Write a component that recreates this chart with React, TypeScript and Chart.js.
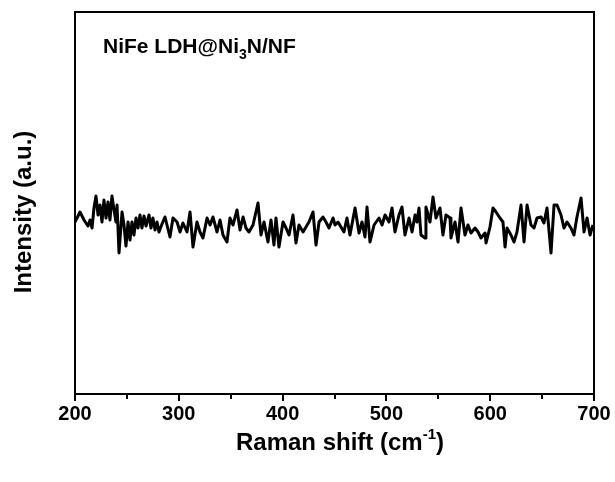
import React, { useEffect, useRef } from "react";
import { Chart, registerables } from "chart.js";

Chart.register(...registerables);

const ramanShift: number[] = [
  200.0, 201.0, 204.8, 208.7, 212.5, 214.5, 216.4, 218.3, 220.2, 222.2, 224.1, 226.0, 227.9, 229.9, 231.8,
  233.7, 235.6, 237.6, 239.5, 240.5, 242.4, 245.3, 247.2, 249.1, 251.1, 253.0, 254.9, 256.8, 258.8, 260.7,
  262.6, 264.5, 266.5, 268.4, 271.3, 273.2, 275.1, 277.1, 279.0, 280.9, 283.8, 286.7, 291.5, 294.4, 298.3,
  301.2, 304.0, 307.9, 310.8, 313.7, 317.5, 320.4, 323.3, 327.2, 330.1, 332.9, 336.8, 339.7, 342.6, 346.4,
  349.3, 352.2, 356.1, 359.0, 361.9, 364.7, 367.6, 371.5, 376.3, 379.2, 382.1, 385.9, 388.8, 391.7, 393.6,
  396.5, 400.4, 403.3, 406.2, 410.0, 412.9, 415.8, 419.7, 422.5, 425.4, 429.3, 432.2, 435.1, 438.9, 441.8,
  444.7, 448.6, 450.5, 453.4, 459.1, 462.0, 464.9, 469.8, 473.6, 476.5, 479.4, 481.3, 484.2, 488.1, 492.9,
  495.8, 498.7, 502.5, 505.4, 508.3, 512.1, 515.0, 517.9, 521.8, 524.7, 527.6, 529.5, 531.4, 533.3, 537.2,
  538.1, 542.0, 544.9, 547.8, 551.6, 554.5, 557.4, 561.3, 562.2, 566.1, 569.0, 571.9, 575.7, 578.6, 581.5,
  585.4, 588.3, 591.1, 595.0, 596.0, 599.8, 602.7, 605.6, 609.4, 612.3, 614.3, 616.2, 620.0, 622.9, 625.8,
  629.7, 632.6, 635.5, 639.3, 642.2, 645.1, 649.0, 651.8, 654.7, 658.6, 661.5, 664.4, 668.2, 671.1, 674.0,
  677.8, 680.7, 683.6, 687.5, 690.4, 693.3, 696.2, 699.0,
];

const intensity: number[] = [
  172, 174, 182, 174, 168, 174, 166, 186, 198, 179, 189, 172, 194, 176, 192,
  174, 198, 184, 172, 189, 141, 182, 169, 148, 172, 154, 172, 159, 176, 166,
  179, 166, 178, 168, 179, 166, 176, 164, 172, 162, 170, 177, 157, 176, 172,
  162, 171, 162, 182, 147, 172, 162, 156, 176, 169, 177, 162, 174, 159, 152,
  176, 169, 184, 164, 177, 166, 162, 169, 191, 159, 172, 152, 174, 149, 176,
  147, 172, 166, 159, 179, 151, 169, 162, 167, 172, 182, 149, 172, 177, 172,
  166, 176, 169, 172, 162, 176, 159, 186, 161, 172, 157, 187, 152, 169, 176,
  169, 179, 172, 186, 162, 179, 187, 159, 176, 162, 179, 172, 186, 159, 156,
  187, 172, 197, 176, 186, 159, 179, 176, 156, 172, 152, 186, 159, 169, 161,
  166, 162, 156, 161, 151, 167, 186, 182, 176, 172, 147, 166, 159, 152, 162,
  189, 152, 189, 169, 166, 176, 177, 171, 186, 141, 189, 189, 179, 166, 172,
  166, 159, 177, 196, 162, 176, 159, 169,
];

const xTickValues: number[] = [200, 250, 300, 350, 400, 450, 500, 550, 600, 650, 700];

const FONT = "Arial, 'Liberation Sans', Helvetica, sans-serif";

const textPlugin = {
  id: "customText",
  afterDraw(chart: any) {
    const ctx = chart.ctx as CanvasRenderingContext2D;
    const { left, top, right, bottom } = chart.chartArea;
    const xs = chart.scales.x;
    ctx.save();
    // frame
    ctx.strokeStyle = "#000";
    ctx.lineWidth = 2;
    ctx.strokeRect(left, top, right - left, bottom - top);

    // minor ticks (shorter)
    ctx.beginPath();
    xTickValues.forEach((v) => {
      if (v % 100 !== 0) {
        const px = Math.round(xs.getPixelForValue(v));
        ctx.moveTo(px, bottom);
        ctx.lineTo(px, bottom + 5);
      }
    });
    ctx.stroke();

    ctx.fillStyle = "#000";
    ctx.textBaseline = "alphabetic";
    ctx.textAlign = "left";

    // annotation
    let x = 103;
    const by = 53;
    ctx.font = `bold 21px ${FONT}`;
    const a1 = "NiFe LDH@Ni";
    ctx.fillText(a1, x, by);
    x += ctx.measureText(a1).width;
    ctx.font = `bold 14px ${FONT}`;
    ctx.fillText("3", x, by + 6);
    x += ctx.measureText("3").width;
    ctx.font = `bold 21px ${FONT}`;
    ctx.fillText("N/NF", x, by);

    // x title
    const t1 = "Raman shift (cm";
    const t2 = "-1";
    const t3 = ")";
    ctx.font = `bold 24px ${FONT}`;
    const w1 = ctx.measureText(t1).width;
    const w3 = ctx.measureText(t3).width;
    ctx.font = `bold 15px ${FONT}`;
    const w2 = ctx.measureText(t2).width;
    const total = w1 + w2 + w3;
    let tx = 340 - total / 2;
    const ty = 450;
    ctx.font = `bold 24px ${FONT}`;
    ctx.fillText(t1, tx, ty);
    tx += w1;
    ctx.font = `bold 15px ${FONT}`;
    ctx.fillText(t2, tx, ty - 11);
    tx += w2;
    ctx.font = `bold 24px ${FONT}`;
    ctx.fillText(t3, tx, ty);

    // y title
    ctx.translate(31, 212);
    ctx.rotate(-Math.PI / 2);
    ctx.textAlign = "center";
    ctx.font = `bold 24px ${FONT}`;
    ctx.fillText("Intensity (a.u.)", 0, 0);
    ctx.restore();
  },
};

export default function App() {
  const canvasRef = useRef<HTMLCanvasElement | null>(null);

  useEffect(() => {
    document.body.style.margin = "0";
    const canvas = canvasRef.current;
    if (!canvas) return;
    const points = ramanShift.map((v, i) => ({ x: v, y: intensity[i] }));
    const chart = new Chart(canvas, {
      type: "line",
      data: {
        datasets: [
          {
            data: points,
            borderColor: "#000",
            borderWidth: 3,
            pointRadius: 0,
            tension: 0,
            fill: false,
            borderJoinStyle: "round",
          },
        ],
      },
      options: {
        responsive: false,
        animation: false,
        devicePixelRatio: 1,
        layout: { padding: { top: 12, right: 21, left: 0, bottom: 0 } },
        plugins: { legend: { display: false }, tooltip: { enabled: false } },
        scales: {
          x: {
            type: "linear",
            min: 200,
            max: 700,
            afterBuildTicks: (scale: any) => {
              scale.ticks = xTickValues.map((v) => ({ value: v }));
            },
            afterFit: (scale: any) => {
              scale.height = 88;
            },
            ticks: {
              color: "#000",
              font: { family: FONT, size: 20, weight: "bold" },
              padding: 1,
              maxRotation: 0,
              autoSkip: false,
              callback: (v: any) => (Number(v) % 100 === 0 ? String(v) : ""),
            },
            grid: {
              display: true,
              drawOnChartArea: false,
              drawTicks: true,
              tickLength: 7,
              color: (c: any) =>
                c.tick && c.tick.value % 100 === 0 ? "#000" : "rgba(0,0,0,0)",
              lineWidth: 2,
            },
            border: { display: true, color: "#000", width: 2 },
          },
          y: {
            type: "linear",
            min: 0,
            max: 382,
            afterFit: (scale: any) => {
              scale.width = 75;
            },
            ticks: { display: false },
            grid: { display: false, drawTicks: false },
            border: { display: true, color: "#000", width: 2 },
          },
        },
      },
      plugins: [textPlugin],
    });
    return () => chart.destroy();
  }, []);

  return (
    <div style={{ width: 615, height: 482, background: "#fff" }}>
      <canvas ref={canvasRef} width={615} height={482} style={{ display: "block" }} />
    </div>
  );
}
